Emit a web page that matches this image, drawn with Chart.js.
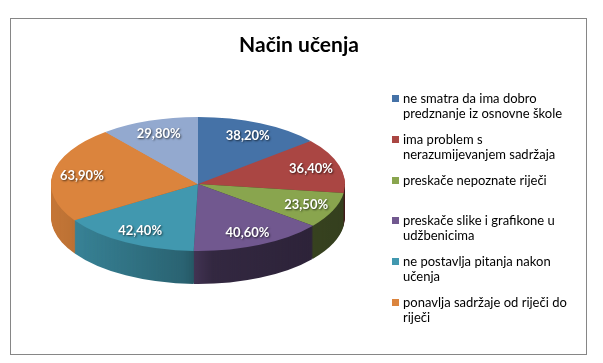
<!DOCTYPE html>
<html><head><meta charset="utf-8">
<script src="https://cdn.jsdelivr.net/npm/chart.js@4.4.0/dist/chart.umd.min.js"></script>
<style>html,body{margin:0;padding:0;background:#fff;}#wrap{width:603px;height:363px;position:relative;}</style>
</head><body><div id="wrap"><canvas id="c" width="603" height="363"></canvas></div>
<script>
const chartTitle = 'Način učenja';
const categories = [
  ['ne smatra da ima dobro', 'predznanje iz osnovne škole'],
  ['ima problem s', 'nerazumijevanjem sadržaja'],
  ['preskače nepoznate riječi'],
  ['preskače slike i grafikone u', 'udžbenicima'],
  ['ne postavlja pitanja nakon', 'učenja'],
  ['ponavlja sadržaje od riječi do', 'riječi'],
  ''
];
const values = [38.2, 36.4, 23.5, 40.6, 42.4, 63.9, 29.8];
const colors = ['#4572A7', '#AA4643', '#89A54E', '#71588F', '#4198AF', '#DB843D', '#93A9CF'];

// 3D look parameters (screen pixels)
const VIEW = { cx: 198, cy: 184, rx: 147, ry: 67, depth: 33 };

function fmt(v) { return v.toFixed(2).replace('.', ',') + '%'; }

const pie3d = {
  id: 'pie3d',
  beforeDatasetsDraw(chart) {
    const ctx = chart.ctx;
    const meta = chart.getDatasetMeta(0);
    const arcs = meta.data;
    if (!arcs.length) return;
    const { x: cx, y: cy, outerRadius: R } = arcs[0].getProps(['x', 'y', 'outerRadius'], true);
    const sx = VIEW.rx / R, sy = VIEW.ry / R;
    chart.$pie3d = { cx, cy, R, sx, sy };
    ctx.save();
    ctx.translate(VIEW.cx, VIEW.cy);
    ctx.scale(sx, sy);
    ctx.translate(-cx, -cy);
    for (let d = VIEW.depth; d >= 1; d--) {
      ctx.save();
      ctx.translate(0, d / sy);
      arcs.forEach((a, i) => {
        const p = a.getProps(['startAngle', 'endAngle'], true);
        ctx.beginPath();
        ctx.moveTo(cx, cy);
        ctx.arc(cx, cy, R, p.startAngle, p.endAngle);
        ctx.closePath();
        ctx.fillStyle = colors[i];
        ctx.fill();
      });
      ctx.restore();
    }
    ctx.restore();
    ctx.save();
    ctx.beginPath();
    ctx.rect(VIEW.cx - VIEW.rx - 5, VIEW.cy, 2 * VIEW.rx + 10, VIEW.ry + VIEW.depth + 10);
    ctx.clip();
    ctx.globalCompositeOperation = 'source-atop';
    const g = ctx.createLinearGradient(VIEW.cx - VIEW.rx, 0, VIEW.cx + VIEW.rx, 0);
    g.addColorStop(0, 'rgba(0,0,0,0.1)');
    g.addColorStop(0.45, 'rgba(0,0,0,0.35)');
    g.addColorStop(0.55, 'rgba(0,0,0,0.55)');
    g.addColorStop(1, 'rgba(0,0,0,0.62)');
    ctx.fillStyle = g;
    ctx.fillRect(VIEW.cx - VIEW.rx - 5, VIEW.cy, 2 * VIEW.rx + 10, VIEW.ry + VIEW.depth + 10);
    ctx.restore();
    ctx.save();
    ctx.translate(VIEW.cx, VIEW.cy);
    ctx.scale(sx, sy);
    ctx.translate(-cx, -cy);
  },
  afterDatasetsDraw(chart) {
    const ctx = chart.ctx;
    const s = chart.$pie3d;
    if (!s) return;
    ctx.restore();
    const arcs = chart.getDatasetMeta(0).data;
    ctx.save();
    ctx.font = 'bold 13px Lato';
    ctx.textAlign = 'center';
    ctx.textBaseline = 'middle';
    ctx.fillStyle = '#fff';
    ctx.shadowColor = 'rgba(0,0,0,0.65)';
    ctx.shadowBlur = 2;
    ctx.shadowOffsetX = 1;
    ctx.shadowOffsetY = 1;
    arcs.forEach((a, i) => {
      const p = a.getProps(['startAngle', 'endAngle'], true);
      const mid = (p.startAngle + p.endAngle) / 2;
      const rr = s.R * 0.8;
      const px = VIEW.cx + Math.cos(mid) * rr * s.sx;
      const py = VIEW.cy + Math.sin(mid) * rr * s.sy;
      ctx.fillText(fmt(values[i]), px, py);
    });
    ctx.restore();
  },
  afterDraw(chart) {
    const ctx = chart.ctx;
    ctx.save();
    // title
    ctx.font = 'bold 21px Lato';
    ctx.fillStyle = '#000';
    ctx.textAlign = 'center';
    ctx.textBaseline = 'alphabetic';
    ctx.fillText(chartTitle, 299, 52);
    // legend
    const items = categories.map((c, i) => ({ c, i })).filter(o => o.c && o.c.length);
    const y0 = 99, y1 = 303;
    const step = (y1 - y0) / (items.length - 1);
    ctx.font = '13px Lato';
    ctx.textBaseline = 'middle';
    ctx.textAlign = 'left';
    items.forEach((o, k) => {
      const y = Math.round(y0 + k * step);
      ctx.fillStyle = colors[o.i];
      ctx.fillRect(392, y - 4, 7, 7);
      ctx.fillStyle = '#000';
      const lines = Array.isArray(o.c) ? o.c : [o.c];
      lines.forEach((t, j) => ctx.fillText(t, 403, y + j * 15));
    });
    ctx.strokeStyle = '#868686';
    ctx.lineWidth = 1;
    ctx.strokeRect(10.5, 18.5, 576, 336);
    ctx.restore();
  }
};

new Chart(document.getElementById('c'), {
  type: 'pie',
  data: {
    labels: categories,
    datasets: [{
      data: values,
      backgroundColor: colors,
      borderWidth: 0,
      clip: false
    }]
  },
  options: {
    responsive: false,
    animation: false,
    events: [],
    layout: { padding: { left: 51, right: 258, top: 0, bottom: 0 } },
    plugins: {
      legend: { display: false },
      tooltip: { enabled: false },
      title: { display: false }
    }
  },
  plugins: [pie3d]
});
</script>
</body></html>
